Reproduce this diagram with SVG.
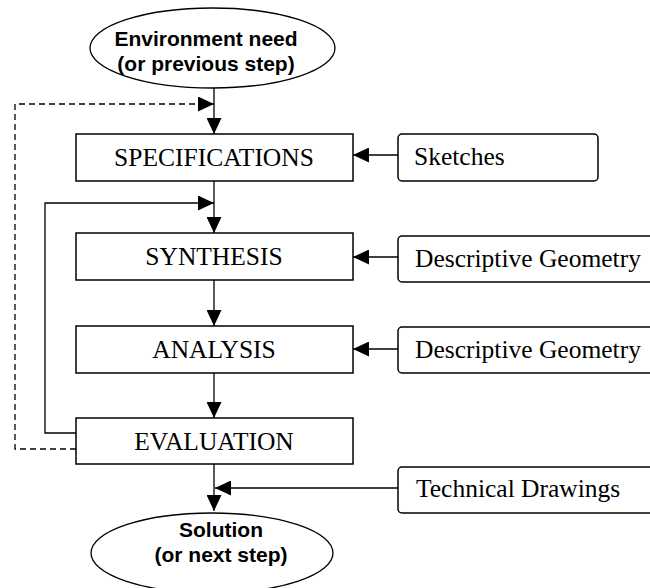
<svg xmlns="http://www.w3.org/2000/svg" width="650" height="588" viewBox="0 0 650 588">
<style>
.box{fill:#fff;stroke:#000;stroke-width:1.5}
.src{fill:#fff;stroke:#000;stroke-width:1.5}
.ell{fill:#fff;stroke:#000;stroke-width:1.3}
.t{font-family:"Liberation Serif","Times New Roman",serif;font-size:25.5px;fill:#000}
.b{font-family:"Liberation Sans",Arial,sans-serif;font-size:21px;font-weight:bold;fill:#000;text-anchor:middle}
.c{fill:none;stroke:#000;stroke-width:1.3}
.d{stroke-dasharray:6,4}
</style>
<defs>
<marker id="ah" markerUnits="userSpaceOnUse" markerWidth="17" markerHeight="15" refX="16" refY="7.5" orient="auto">
<path d="M0,0 L16,7.5 L0,15 Z" fill="#000"/>
</marker>
</defs>
<rect width="650" height="588" fill="#fff"/>
<g id="connectors">
<line class="c" x1="214" y1="88" x2="214" y2="134" marker-end="url(#ah)"/>
<line class="c" x1="214" y1="181" x2="214" y2="233" marker-end="url(#ah)"/>
<line class="c" x1="214" y1="280" x2="214" y2="326" marker-end="url(#ah)"/>
<line class="c" x1="214" y1="373" x2="214" y2="418" marker-end="url(#ah)"/>
<line class="c" x1="214" y1="464" x2="214" y2="511" marker-end="url(#ah)"/>
<polyline class="c d" points="76,449 15,449 15,104 214,104" marker-end="url(#ah)"/>
<polyline class="c" points="76,433 45,433 45,203 214,203" marker-end="url(#ah)"/>
<line class="c" x1="398" y1="155" x2="353" y2="155" marker-end="url(#ah)"/>
<line class="c" x1="398" y1="257" x2="353" y2="257" marker-end="url(#ah)"/>
<line class="c" x1="398" y1="349" x2="353" y2="349" marker-end="url(#ah)"/>
<line class="c" x1="398" y1="488" x2="215" y2="488" marker-end="url(#ah)"/>
</g>
<g id="start">
<ellipse class="ell" cx="212.5" cy="48" rx="122.5" ry="40"/>
<text class="b" x="206" y="46">Environment need</text>
<text class="b" x="206" y="71">(or previous step)</text>
</g>
<g id="specifications">
<rect class="box" x="76" y="134" width="277" height="47"/>
<text class="t" x="214" y="166" text-anchor="middle">SPECIFICATIONS</text>
</g>
<g id="synthesis">
<rect class="box" x="76" y="233" width="277" height="47"/>
<text class="t" x="214" y="265" text-anchor="middle">SYNTHESIS</text>
</g>
<g id="analysis">
<rect class="box" x="76" y="326" width="277" height="47"/>
<text class="t" x="214" y="358" text-anchor="middle">ANALYSIS</text>
</g>
<g id="evaluation">
<rect class="box" x="76" y="418" width="277" height="46"/>
<text class="t" x="214" y="450" text-anchor="middle">EVALUATION</text>
</g>
<g id="end">
<ellipse class="ell" cx="212" cy="553" rx="121" ry="40"/>
<text class="b" x="221" y="537">Solution</text>
<text class="b" x="221" y="562">(or next step)</text>
</g>
<g id="sketches">
<rect class="src" x="398" y="134" width="200" height="47" rx="4"/>
<text class="t" x="414" y="165">Sketches</text>
</g>
<g id="geometry1">
<rect class="src" x="398" y="236" width="270" height="46" rx="4"/>
<text class="t" x="415" y="267">Descriptive Geometry</text>
</g>
<g id="geometry2">
<rect class="src" x="398" y="327" width="270" height="46" rx="4"/>
<text class="t" x="415" y="358">Descriptive Geometry</text>
</g>
<g id="drawings">
<rect class="src" x="398" y="467" width="270" height="46" rx="4"/>
<text class="t" x="416" y="497">Technical Drawings</text>
</g>
</svg>
